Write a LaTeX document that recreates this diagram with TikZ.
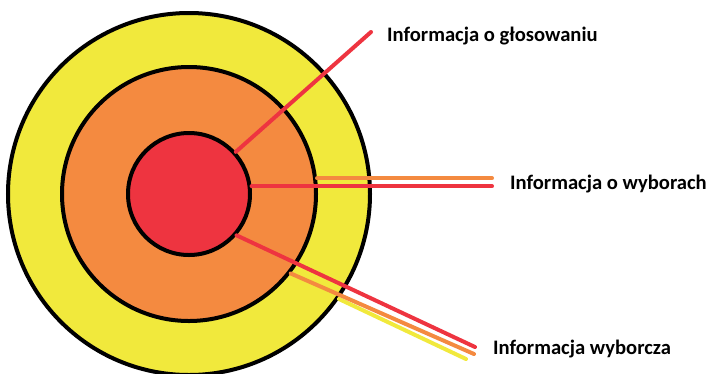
\documentclass[tikz,border=0pt]{standalone}
\usepackage{fontspec}
\setmainfont{Carlito}
\usetikzlibrary{calc}

\definecolor{czerw}{RGB}{238,52,64}
\definecolor{pomar}{RGB}{244,138,64}
\definecolor{zolty}{RGB}{241,233,60}

\begin{document}
\begin{tikzpicture}[x=1pt,y=-1pt]
\tikzstyle{krag}=[draw=black,line width=4pt,shape=circle,inner sep=0pt];
\tikzstyle{linia}=[line width=4pt,line cap=round];
\tikzstyle{opis}=[anchor=base west,inner sep=0pt,font=\fontsize{20.6}{24}\selectfont\bfseries];
\useasboundingbox (0,0) rectangle (712,373);

\path (189,194) node[krag,fill=zolty,minimum size=362pt] (outer) {};
\path (189,194) node[krag,fill=pomar,minimum size=254pt] (middle) {};
\path (189,194) node[krag,fill=czerw,minimum size=122pt] (inner) {};

\path (371,32) coordinate (g1);
\path (492,187) coordinate (w1);
\path (475,347) coordinate (d1);
\path (474,354) coordinate (d2);
\path (466,359) coordinate (d3);

\path (387,41) node[opis] (glos) {Informacja o głosowaniu};
\path (510,189) node[opis] (wyb) {Informacja o wyborach};
\path (493,354) node[opis] (wybc) {Informacja wyborcza};

%\draw[help lines] (0,0) grid[step=50] (712,373);
\draw[linia,czerw] (inner.42) -- (g1);
\draw[linia,pomar] (middle.7) -- (middle.7 -| w1);
\draw[linia,czerw] (inner.7) -- (inner.7 -| w1);
\draw[linia,zolty] (outer.-35) -- (d3);
\draw[linia,pomar] (middle.-38) -- (d2);
\draw[linia,czerw] (inner.-41) -- (d1);
\end{tikzpicture}
\end{document}
